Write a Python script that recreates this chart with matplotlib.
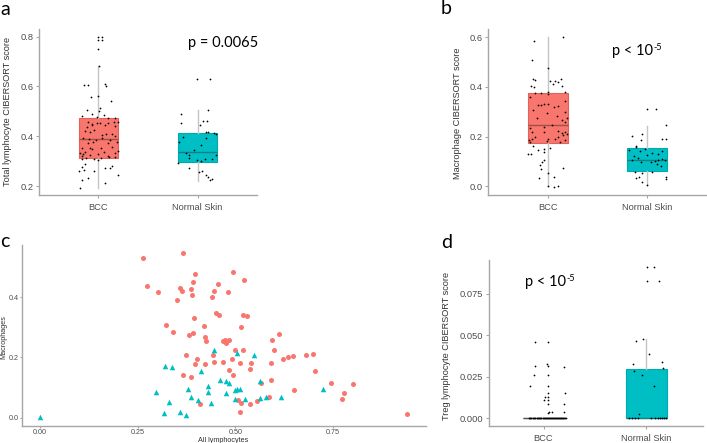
import matplotlib
matplotlib.use('Agg')
import matplotlib.pyplot as plt

plt.rcParams['font.family'] = ['Liberation Sans', 'DejaVu Sans']

groups = ['BCC', 'Normal Skin']
fill = ['#F8766D', '#00BFC4']
edge = ['#e0625a', '#00a9ad']
med_col = ['#a04f49', '#127f83']

# box stats: q1, med, q3, whislo, whishi
box_a = [(0.311, 0.388, 0.472, 0.193, 0.683), (0.298, 0.338, 0.414, 0.220, 0.505)]
box_b = [(0.172, 0.246, 0.375, 0.0, 0.600), (0.061, 0.105, 0.153, 0.003, 0.243)]
box_d = [(0.0, 0.0, 0.0, 0.0, 0.0), (0.0, 0.0, 0.030, 0.0, 0.0477)]

# panel a jittered points (offset from group centre, value)
a_bcc_off = [0, 0.034, 0, 0.034, 0, 0.007, -0.141, -0.108, 0.067, 0.074, -0.074, -0.007, 0.128,
             -0.118, 0.020, 0.007, -0.162, -0.061, -0.017, 0.051, 0.094, 0.162,
             -0.101, -0.067, -0.017, 0.017, 0.101, 0.152, 0.195, -0.118, -0.067, 0.067, 0.168,
             -0.135, -0.084, -0.040, 0.040, 0.074, 0.135, 0.162, -0.152, -0.094, -0.027, 0.034, 0.118,
             -0.108, -0.051, 0.094, 0.185, -0.168, -0.084, -0.061, 0.027, 0.141,
             -0.135, -0.007, 0.061, 0.168, -0.185, -0.152, -0.162, -0.088, 0.101, 0.195,
             -0.162, -0.128, -0.040, -0.007, 0.027, 0.108, 0.162, -0.135, -0.168, 0.067, 0.118, 0.141,
             -0.195, -0.141, -0.040, 0.195, -0.108, -0.162, 0.067, -0.185]
a_bcc_val = [0.799, 0.799, 0.787, 0.787, 0.750, 0.683, 0.606, 0.604, 0.608, 0.602, 0.559, 0.562, 0.541,
             0.505, 0.512, 0.503, 0.483, 0.488, 0.479, 0.485, 0.472, 0.472,
             0.456, 0.450, 0.452, 0.454, 0.454, 0.458, 0.456, 0.438, 0.445, 0.445, 0.441,
             0.421, 0.418, 0.426, 0.405, 0.410, 0.408, 0.401, 0.394, 0.389, 0.385, 0.394, 0.385,
             0.371, 0.375, 0.371, 0.378, 0.351, 0.354, 0.349, 0.351, 0.357,
             0.335, 0.330, 0.338, 0.334, 0.331, 0.330, 0.322, 0.325, 0.321, 0.341,
             0.308, 0.311, 0.308, 0.306, 0.311, 0.315, 0.315, 0.290, 0.278, 0.274, 0.271, 0.279,
             0.260, 0.263, 0.260, 0.244, 0.231, 0.224, 0.211, 0.193]
a_ns_off = [-0.003, 0.125, -0.172, 0.108, -0.165, 0.054, 0.098, 0.020, 0.081, 0.108, 0.165, 0.182,
            -0.148, 0.081, -0.189, 0.030, -0.037, -0.114, -0.088, -0.088, 0.182, -0.003, 0.030,
            0.074, 0.148, -0.195, -0.088, 0.013, 0.040, 0.081, 0.108, 0.121, 0.148]
a_ns_val = [0.630, 0.630, 0.489, 0.505, 0.453, 0.462, 0.462, 0.445, 0.418, 0.416, 0.412, 0.408,
            0.398, 0.394, 0.378, 0.365, 0.345, 0.331, 0.325, 0.314, 0.325, 0.304, 0.302,
            0.308, 0.307, 0.291, 0.274, 0.258, 0.260, 0.244, 0.237, 0.224, 0.228]

# panel b
b_bcc_off = [-0.138, 0.158, -0.162, -0.145, -0.128, -0.168, -0.135, 0.024, 0.074, 0.131, 0.108, 0.057,
             0.141, 0.007, 0, -0.128, -0.067, 0.007, 0.175,
             -0.178, -0.094, -0.067, -0.034, 0, 0.108, 0.175, -0.145, 0.067, 0.091, 0.175,
             -0.111, -0.010, 0.141, 0.192, 0.175, -0.178, -0.034, 0.040, -0.162, 0.108, 0.141,
             0.175, 0.192, -0.034, 0.108, 0.158, -0.189, -0.162, -0.128, 0.007, 0.074, 0.125,
             0.175, -0.178, -0.010,
             -0.145, -0.195, -0.168, -0.094, -0.034, -0.034, 0.024, -0.061, -0.077, -0.067,
             -0.034, 0, 0.158, -0.088, 0.067, 0, 0.067, 0.101]
b_bcc_val = [0.585, 0.603, 0.508, 0.434, 0.428, 0.405, 0.400, 0.424, 0.425, 0.432, 0.421, 0.413,
             0.405, 0.475, 0.381, 0.374, 0.374, 0.373, 0.378,
             0.361, 0.327, 0.327, 0.331, 0.332, 0.323, 0.343, 0.307, 0.320, 0.284, 0.300,
             0.276, 0.293, 0.266, 0.273, 0.257, 0.233, 0.239, 0.246, 0.219, 0.222, 0.213,
             0.217, 0.209, 0.217, 0.199, 0.206, 0.188, 0.190, 0.198, 0.190, 0.192, 0.176,
             0.184, 0.176, 0.182,
             0.163, 0.128, 0.128, 0.145, 0.139, 0.149, 0.152, 0.096, 0.087, 0.067,
             0.105, 0.051, 0.071, 0.034, 0.038, 0.0, -0.003, 0.0]
b_ns_off = [0, 0.091, 0.185, -0.158, -0.051, -0.067, 0.145, 0.192, -0.118, -0.111, -0.024, -0.185,
            -0.077, 0.044, 0.111, 0.152, -0.135, 0, 0.152, -0.158, -0.091, 0.077, 0.111, 0.178,
            -0.067, 0.034, 0.101, 0.135, -0.125, -0.051, 0.044, 0.185, 0.185, -0.118, -0.051, 0,
            -0.084]
b_ns_val = [0.311, 0.311, 0.245, 0.202, 0.210, 0.186, 0.192, 0.192, 0.163, 0.159, 0.149, 0.145,
            0.141, 0.135, 0.128, 0.141, 0.122, 0.125, 0.109, 0.105, 0.112, 0.101, 0.105, 0.105,
            0.098, 0.098, 0.091, 0.082, 0.055, 0.051, 0.058, 0.038, 0.028, 0.031, 0.017, 0.004,
            0.038]

# panel d
d_bcc_off = [-0.085, 0.046, -0.085, 0.036, 0.046, 0.199, -0.095, 0.046, -0.134, 0.046, 0.046, 0.209,
             0.013, 0.046, 0.003, 0.046, 0.046, 0.199, 0.052, 0.085, 0.199, 0.046,
             -0.14, -0.13, -0.12, -0.10, -0.09, -0.08, -0.06, -0.05, -0.04, -0.03, -0.02, -0.01,
             0.0, 0.01, 0.02, 0.03, 0.04, 0.05, 0.06, 0.07, 0.08, 0.09, 0.10, 0.11, 0.12, 0.13,
             0.14, 0.15, 0.16, 0.17, 0.18, 0.19, 0.20, 0.21, 0.22]
d_bcc_val = [0.0461, 0.0461, 0.0316, 0.0328, 0.0316, 0.0308, 0.0262, 0.0262, 0.0193, 0.0193,
             0.0151, 0.0151, 0.0131, 0.0131, 0.0111, 0.0111, 0.0084, 0.0084, 0.0040, 0.0040,
             0.0040, 0.0030,
             0, 0, 0, 0, 0, 0, 0, 0, 0, 0, 0, 0, 0, 0, 0, 0, 0, 0, 0, 0, 0, 0, 0, 0, 0, 0,
             0, 0, 0, 0, 0, 0, 0, 0, 0]
d_ns_off = [0.010, 0.075, 0.010, 0.127, -0.098, -0.036, 0.029, -0.131, 0.154, 0.163, -0.121,
            -0.042, 0.069, -0.072,
            -0.17, -0.14, -0.11, -0.08, 0.04, 0.08, 0.11, 0.13, 0.15, 0.17, 0.19]
d_ns_val = [0.0915, 0.0915, 0.0827, 0.0827, 0.0469, 0.0477, 0.0386, 0.0328, 0.0340, 0.0306,
            0.0284, 0.0260, 0.0193, 0.0026,
            0, 0, 0, 0, 0, 0, 0, 0, 0, 0, 0]

# panel c scatter
bcc_lym = [0.263, 0.366, 0.273, 0.303, 0.398, 0.494, 0.521, 0.391, 0.455, 0.359, 0.387, 0.363,
           0.446, 0.481, 0.388, 0.440, 0.351, 0.450, 0.457, 0.519, 0.530, 0.395, 0.421, 0.322,
           0.515, 0.341, 0.381, 0.392, 0.422, 0.426, 0.468, 0.474, 0.485, 0.477, 0.613, 0.593,
           0.499, 0.519, 0.600, 0.373, 0.442, 0.402, 0.492, 0.622, 0.635, 0.648, 0.682, 0.698,
           0.513, 0.446, 0.469, 0.398, 0.423, 0.540, 0.592, 0.483, 0.538, 0.705, 0.366, 0.493,
           0.387, 0.592, 0.566, 0.744, 0.800, 0.649, 0.777, 0.585, 0.774, 0.555, 0.508, 0.409,
           0.515, 0.537, 0.513, 0.940]
bcc_mac = [0.530, 0.546, 0.438, 0.419, 0.479, 0.484, 0.458, 0.450, 0.444, 0.430, 0.429, 0.421,
           0.421, 0.419, 0.408, 0.402, 0.391, 0.349, 0.340, 0.341, 0.339, 0.331, 0.305, 0.308,
           0.300, 0.286, 0.276, 0.280, 0.268, 0.254, 0.256, 0.258, 0.258, 0.247, 0.277, 0.259,
           0.225, 0.224, 0.225, 0.208, 0.208, 0.194, 0.194, 0.194, 0.201, 0.204, 0.208, 0.213,
           0.181, 0.185, 0.186, 0.178, 0.177, 0.181, 0.183, 0.157, 0.160, 0.155, 0.143, 0.143,
           0.134, 0.126, 0.116, 0.115, 0.113, 0.092, 0.083, 0.070, 0.063, 0.054, 0.059, 0.044,
           0.048, 0.044, 0.018, 0.011]
ns_lym = [0.0, 0.320, 0.337, 0.445, 0.503, 0.547, 0.411, 0.298, 0.331, 0.318, 0.358, 0.375,
          0.379, 0.387, 0.404, 0.429, 0.431, 0.438, 0.462, 0.477, 0.485, 0.475, 0.500, 0.505,
          0.512, 0.499, 0.525, 0.562, 0.562, 0.578, 0.617, 0.724]
ns_mac = [0.002, 0.170, 0.167, 0.224, 0.214, 0.209, 0.154, 0.086, 0.053, 0.014, 0.017, 0.007,
          0.096, 0.070, 0.060, 0.106, 0.086, 0.048, 0.126, 0.123, 0.115, 0.083, 0.092, 0.096,
          0.096, 0.061, 0.063, 0.121, 0.064, 0.068, 0.070, 0.094]

W, H = 707, 443
fig = plt.figure(figsize=(W / 100, H / 100), dpi=100)


def rect(l, t, r, b):
    return [l / W, 1 - b / H, (r - l) / W, (b - t) / H]


def style(ax, size=6.7, length=2, pad=2):
    for s in ['top', 'right']:
        ax.spines[s].set_visible(False)
    for s in ['left', 'bottom']:
        ax.spines[s].set_color('#a6a6a6')
        ax.spines[s].set_linewidth(1.0)
    ax.tick_params(length=length, color='#a6a6a6', labelsize=size, labelcolor='#4d4d4d', pad=pad)


def box_panel(ax, stats, pts, ylim, yticks, fmt, xlim=(0.4, 2.6)):
    bst = []
    for i, (q1, med, q3, lo, hi) in enumerate(stats):
        bst.append(dict(q1=q1, med=med, q3=q3, whislo=lo, whishi=hi, label=groups[i]))
    res = ax.bxp(bst, positions=[1, 2], widths=0.4, showfliers=False, showcaps=False,
                 patch_artist=True, whiskerprops=dict(color='#c4c4c4', lw=1.0))
    for i, p in enumerate(res['boxes']):
        p.set_facecolor(fill[i])
        p.set_edgecolor(edge[i])
        p.set_linewidth(0.8)
    for i, m in enumerate(res['medians']):
        m.set_color(med_col[i])
        m.set_linewidth(1.0)
    for i, (off, val) in enumerate(pts):
        ax.scatter([i + 1 + o for o in off], val, s=1.6, c='black', linewidths=0, zorder=4)
    ax.set_xlim(*xlim)
    ax.set_ylim(*ylim)
    ax.set_yticks(yticks)
    ax.set_yticklabels([fmt % t for t in yticks])
    ax.set_xticks([1, 2])
    ax.set_xticklabels(groups)
    style(ax)
    ax.tick_params(axis='x', pad=4)
    return res


ax_a = fig.add_axes(rect(39, 29, 257, 195))
box_panel(ax_a, box_a, [(a_bcc_off, a_bcc_val), (a_ns_off, a_ns_val)],
          (0.164, 0.831), [0.2, 0.4, 0.6, 0.8], '%.1f')

ax_b = fig.add_axes(rect(488, 29, 707, 195))
box_panel(ax_b, box_b, [(b_bcc_off, b_bcc_val), (b_ns_off, b_ns_val)],
          (-0.036, 0.634), [0.0, 0.2, 0.4, 0.6], '%.1f')

ax_d = fig.add_axes(rect(489, 260, 703, 426))
res_d = box_panel(ax_d, box_d, [(d_bcc_off, d_bcc_val), (d_ns_off, d_ns_val)],
                  (-0.0046, 0.0955), [0.0, 0.025, 0.05, 0.075], '%.3f', xlim=(0.47, 2.55))
# BCC box is flat at zero: only a dark line shows
res_d['boxes'][0].set_edgecolor('#555555')
res_d['medians'][0].set_color('#555555')

ax_c = fig.add_axes(rect(22, 245, 426, 426))
ax_c.scatter(bcc_lym, bcc_mac, s=13, c=fill[0], marker='o', linewidths=0)
ax_c.scatter(ns_lym, ns_mac, s=16, c=fill[1], marker='^', linewidths=0)
ax_c.set_xlim(-0.046, 0.988)
ax_c.set_ylim(-0.028, 0.574)
ax_c.set_xticks([0, 0.25, 0.5, 0.75])
ax_c.set_xticklabels(['0.00', '0.25', '0.50', '0.75'])
ax_c.set_yticks([0.0, 0.2, 0.4])
ax_c.set_yticklabels(['0.0', '0.2', '0.4'])
style(ax_c, size=5.2, length=1.5, pad=0.6)

# axis titles
lab = dict(color='#333333', rotation=90, ha='center', va='center')
fig.text(7.5 / W, 1 - 111 / H, 'Total lymphocyte CIBERSORT score', fontsize=6.6, **lab)
fig.text(457 / W, 1 - 113 / H, 'Macrophage CIBERSORT score', fontsize=6.6, **lab)
fig.text(447 / W, 1 - 346 / H, 'Treg lymphocyte CIBERSORT score', fontsize=6.6, **lab)
fig.text(4 / W, 1 - 337 / H, 'Macrophages', fontsize=5.2, **lab)
fig.text(223 / W, 1 - 440 / H, 'All lymphocytes', fontsize=5.2, color='#333333',
         ha='center', va='center')

# panel letters and p values
big = dict(family=['Lato', 'DejaVu Sans'], va='baseline', color='black')
fig.text(0 / W, 1 - 15 / H, 'a', fontsize=14, **big)
fig.text(441 / W, 1 - 13.5 / H, 'b', fontsize=14, **big)
fig.text(0 / W, 1 - 247 / H, 'c', fontsize=14, **big)
fig.text(441 / W, 1 - 248 / H, 'd', fontsize=14, **big)
fig.text(188 / W, 1 - 47.3 / H, 'p = 0.0065', fontsize=10.5, **big)

fig.canvas.draw()
for x0, y0 in [(612, 55), (525, 285.7)]:
    t = fig.text(x0 / W, 1 - y0 / H, 'p < 10', fontsize=10.5, **big)
    bb = t.get_window_extent(renderer=fig.canvas.get_renderer())
    fig.text((bb.x1 + 0.5) / W, 1 - (y0 - 5) / H, '-5', fontsize=6.5, **big)

fig.savefig('out.png', dpi=100)
